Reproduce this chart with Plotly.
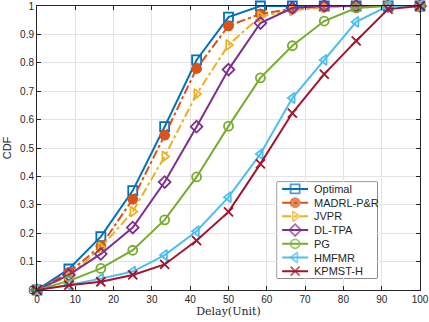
import plotly.graph_objects as go

# Delay (Unit) sample points
delay = [0, 8.33, 16.67, 25, 33.33, 41.67, 50, 58.33, 66.67, 75, 83.33, 91.67, 100]

cdf_optimal = [0, 0.074, 0.188, 0.35, 0.575, 0.81, 0.961, 1.0, 1.0, 1.0, 1.0, 1.0, 1.0]
cdf_madrl = [0, 0.062, 0.155, 0.32, 0.545, 0.78, 0.93, 0.972, 0.99, 0.998, 1.0, 1.0, 1.0]
cdf_jvpr = [0, 0.048, 0.15, 0.276, 0.47, 0.69, 0.863, 0.963, 0.985, 0.995, 1.0, 1.0, 1.0]
cdf_dltpa = [0, 0.053, 0.127, 0.22, 0.38, 0.575, 0.776, 0.94, 0.993, 1.0, 1.0, 1.0, 1.0]
cdf_pg = [0, 0.032, 0.076, 0.14, 0.247, 0.398, 0.577, 0.747, 0.86, 0.947, 0.993, 1.0, 1.0]
cdf_hmfmr = [0, 0.018, 0.04, 0.065, 0.123, 0.207, 0.327, 0.479, 0.676, 0.81, 0.944, 1.0, 1.0]
cdf_kpmst = [0, 0.017, 0.029, 0.053, 0.09, 0.174, 0.275, 0.444, 0.623, 0.76, 0.877, 0.989, 1.0]

series = [
    ('Optimal', cdf_optimal, '#0072BD', 'solid', 'square-open'),
    ('MADRL-P&R', cdf_madrl, '#D95319', 'dashdot', 'circle'),
    ('JVPR', cdf_jvpr, '#EDB120', 'dashdot', 'triangle-right-open'),
    ('DL-TPA', cdf_dltpa, '#7E2F8E', 'solid', 'diamond-open'),
    ('PG', cdf_pg, '#77AC30', 'solid', 'circle-open'),
    ('HMFMR', cdf_hmfmr, '#4DBEEE', 'solid', 'triangle-left-open'),
    ('KPMST-H', cdf_kpmst, '#A2142F', 'solid', 'x-thin-open'),
]

TXT = '#262626'
fig = go.Figure()
for name, y, col, dash, sym in series:
    fig.add_trace(go.Scatter(
        x=delay, y=y, name=name, mode='lines+markers', showlegend=False,
        line=dict(color=col, width=2, dash=dash),
        marker=dict(symbol=sym, size=9, color=col, line=dict(color=col, width=1.8)),
        cliponaxis=False,
    ))

# MATLAB-style legend box drawn on a small inset axis (x in px-like units, one row per entry)
n = len(series)
for i, (name, y, col, dash, sym) in enumerate(series):
    fig.add_trace(go.Scatter(
        x=[5, 18, 31], y=[i + 0.5] * 3, mode='lines+markers', showlegend=False,
        xaxis='x2', yaxis='y2', hoverinfo='skip',
        line=dict(color=col, width=2, dash=dash),
        marker=dict(symbol=sym, size=[0, 9, 0], color=col, line=dict(color=col, width=1.8)),
        cliponaxis=False,
    ))
    fig.add_annotation(x=35, y=i + 0.5, xref='x2', yref='y2', text=name,
                       showarrow=False, xanchor='left', yanchor='middle',
                       font=dict(family='Liberation Sans, Arial', size=11, color=TXT))
fig.add_shape(type='rect', xref='x2 domain', yref='y2 domain', x0=0, x1=1, y0=0, y1=1,
              layer='below', fillcolor='white', line=dict(color=TXT, width=1))

ax = dict(showline=True, linecolor=TXT, linewidth=1, mirror='ticks',
          ticks='inside', ticklen=4, tickcolor=TXT, automargin=False,
          showgrid=True, gridcolor='#e3e3e3', gridwidth=1, zeroline=False,
          tickfont=dict(family='Liberation Sans, Arial', size=10, color=TXT))

fig.update_xaxes(range=[0, 100], dtick=10, **ax,
                 title=dict(text='Delay(Unit)', standoff=3,
                            font=dict(family='DejaVu Serif, Liberation Serif', size=11, color=TXT)))
fig.update_yaxes(range=[0, 1], dtick=0.1, **ax,
                 title=dict(text='CDF', standoff=6,
                            font=dict(family='Liberation Sans, Arial', size=11, color=TXT)))

fig.update_layout(
    width=429, height=322,
    margin=dict(l=37, r=9, t=6, b=32),
    plot_bgcolor='white', paper_bgcolor='white',
    xaxis2=dict(domain=[0.627, 0.888], range=[0, 100], anchor='y2', visible=False, fixedrange=True),
    yaxis2=dict(domain=[0.042, 0.380], range=[n, 0], anchor='x2', visible=False, fixedrange=True),
)

fig.write_html("out.html", config={'displayModeBar': False},
               post_script="document.body.style.margin='0';")
